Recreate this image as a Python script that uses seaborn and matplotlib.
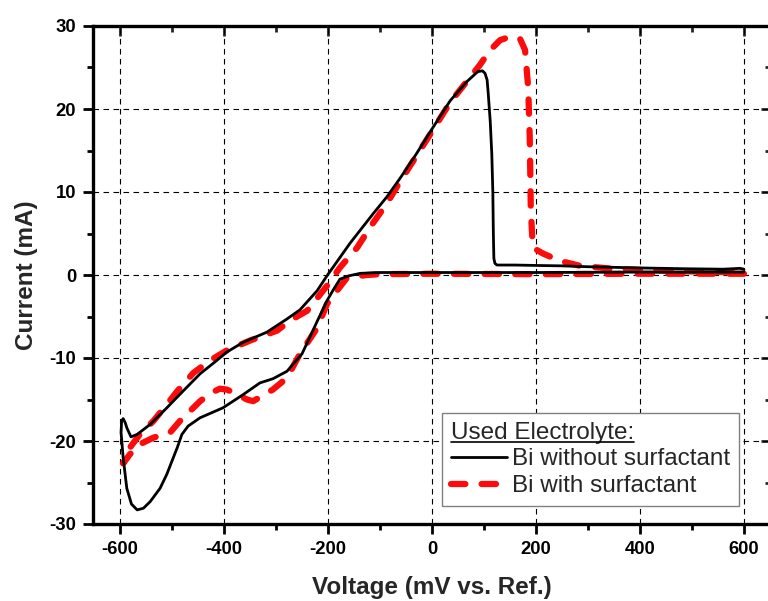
import matplotlib
matplotlib.use("Agg")
import matplotlib.pyplot as plt
from matplotlib.lines import Line2D
import numpy as np
import pandas as pd
import seaborn as sns

# --- data (scan path order) ---
bi_plain_v = [600, 400, 200, 0, -100, -138, -160, -177, -190, -202, -221, -250,
              -279, -306, -331, -363, -402, -446, -469, -481, -490, -500, -510,
              -523, -542, -555, -567, -578, -587, -594, -598, -597, -594, -590,
              -587, -579, -567, -542, -510, -479, -446, -414, -395, -363, -318,
              -279, -254, -221, -202, -158, -113, -87, -62, -30, -2, 35, 67, 88,
              97, 102, 106, 108, 112, 115, 117, 118, 119, 121, 125, 160, 200, 250,
              298, 400, 490, 560, 592, 600]
bi_plain_i = [0.35, 0.35, 0.3, 0.3, 0.3, 0.2, -0.1, -0.5, -1.8, -3.1, -5.6, -9.5,
              -11.6, -12.5, -13.0, -14.4, -16.0, -17.2, -18.2, -19.2, -20.8, -22.4,
              -24.0, -25.7, -27.3, -28.1, -28.3, -27.6, -25.7, -22.0, -19.0, -17.6,
              -17.3, -17.8, -18.4, -19.5, -19.2, -18.0, -16.0, -14.0, -11.9, -10.3,
              -9.3, -8.1, -6.9, -5.3, -4.2, -1.9, -0.1, 3.8, 7.4, 9.4, 11.6, 14.6,
              17.4, 21.0, 23.3, 24.5, 24.6, 24.3, 23.5, 22.0, 18.5, 14.6, 10.0, 5.0,
              2.0, 1.4, 1.2, 1.2, 1.15, 1.1, 1.0, 0.85, 0.75, 0.7, 0.8, 0.7]

bi_surf_v = [600, 400, 200, 0, -100, -125, -163, -183, -202, -221, -254, -279,
             -306, -344, -356, -380, -395, -408, -425, -446, -485, -504, -536,
             -562, -581, -594, -581, -562, -536, -510, -490, -459, -427, -395,
             -350, -298, -273, -240, -202, -177, -144, -113, -87, -62, -2, 35, 92,
             112, 131, 150, 169, 179, 185, 188, 190, 192, 194, 213, 246, 285, 348,
             450, 600]
bi_surf_i = [0.15, 0.15, 0.1, 0.15, 0.1, 0.0, -0.3, -1.9, -3.5, -6.4, -9.5, -12.4,
             -13.8, -15.2, -15.0, -14.2, -13.8, -13.7, -14.2, -15.2, -17.6, -19.0,
             -19.6, -20.4, -21.6, -22.7, -20.8, -19.2, -17.6, -15.6, -14.0, -11.8,
             -10.3, -9.1, -7.9, -6.7, -5.5, -4.3, -1.3, 0.9, 3.3, 6.3, 8.6, 11.2,
             17.1, 20.8, 25.3, 27.1, 28.3, 28.7, 28.5, 27.1, 22.6, 16.6, 8.1, 5.5,
             3.3, 2.6, 1.7, 1.1, 0.75, 0.5, 0.3]

x_ticks = [-600, -400, -200, 0, 200, 400, 600]
y_ticks = [-30, -20, -10, 0, 10, 20, 30]

sns.set_style("white")
plt.rcParams["font.family"] = ["Liberation Sans", "DejaVu Sans"]
plt.rcParams["axes.unicode_minus"] = False

fig = plt.figure(figsize=(7.68, 6.01), dpi=100)
ax = fig.add_axes([93 / 768, 77 / 601, 678 / 768, 498 / 601])

sns.lineplot(x=bi_plain_v, y=bi_plain_i, sort=False, estimator=None, ax=ax,
             color="black", linewidth=2.0, zorder=3, label="Bi without surfactant")
sns.lineplot(x=bi_surf_v, y=bi_surf_i, sort=False, estimator=None, ax=ax,
             color="#ff0a0a", linewidth=4.5, zorder=2, label="Bi with surfactant")
red_line = ax.get_lines()[1]
red_line.set_dashes((2.3, 2.6))
red_line.set_dash_capstyle("round")

ax.set_xlim(-652, 652)
ax.set_ylim(-30, 30)
ax.set_xticks(x_ticks)
ax.set_yticks(y_ticks)
ax.set_xticks(np.arange(-600, 601, 100), minor=True)
ax.set_yticks(np.arange(-30, 31, 5), minor=True)

ax.grid(True, which="major", color="black", linestyle=(0, (5, 4)), linewidth=0.8)
ax.set_axisbelow(True)

for side in ["left", "bottom", "top", "right"]:
    ax.spines[side].set_visible(True)
    ax.spines[side].set_linewidth(2.4)
    ax.spines[side].set_color("black")

ax.tick_params(which="both", color="black", width=2.0, labelsize=13.3,
               labelcolor="black")
ax.tick_params(which="major", length=7.2)
ax.tick_params(which="minor", length=4.3)
ax.tick_params(axis="x", which="both", direction="out", bottom=True, top=False, pad=5)
ax.tick_params(axis="y", which="both", direction="out", left=True, right=False, pad=5)
for lab in ax.get_xticklabels() + ax.get_yticklabels():
    lab.set_fontweight("bold")

# inward ticks on the top and right edges
top = ax.secondary_xaxis("top")
top.set_xticks(x_ticks)
top.set_xticks(np.arange(-600, 601, 100), minor=True)
top.tick_params(which="both", direction="in", width=2.0, labeltop=False)
top.tick_params(which="major", length=7.2)
top.tick_params(which="minor", length=4.3)
top.spines["top"].set_visible(False)
right = ax.secondary_yaxis("right")
right.set_yticks(y_ticks)
right.set_yticks(np.arange(-30, 31, 5), minor=True)
right.tick_params(which="both", direction="in", width=2.0, labelright=False)
right.tick_params(which="major", length=7.2)
right.tick_params(which="minor", length=4.3)
right.spines["right"].set_visible(False)

ax.set_xlabel("Voltage (mV vs. Ref.)", fontsize=17.5, fontweight="bold", labelpad=13)
ax.set_ylabel("Current (mA)", fontsize=17.5, fontweight="bold", labelpad=8)

leg = ax.legend(title="Used Electrolyte:", loc="lower left",
                bbox_to_anchor=(0.515, 0.036), borderaxespad=0, frameon=True,
                fancybox=False, edgecolor="#808080", framealpha=1,
                fontsize=17.5, title_fontsize=17.5, handlelength=2.3,
                handletextpad=0.2, borderpad=0.36, labelspacing=0.2,
                alignment="left")
leg.get_frame().set_linewidth(1.0)

fig.canvas.draw()
tb = leg.get_title().get_window_extent()
inv = fig.transFigure.inverted()
(x0, y0), (x1, _) = inv.transform([(tb.x0, tb.y0 + 2), (tb.x1, tb.y0 + 2)])
fig.add_artist(Line2D([x0, x1], [y0, y0], color="black", linewidth=1.2,
                      transform=fig.transFigure))

fig.savefig("out.png", dpi=100)
